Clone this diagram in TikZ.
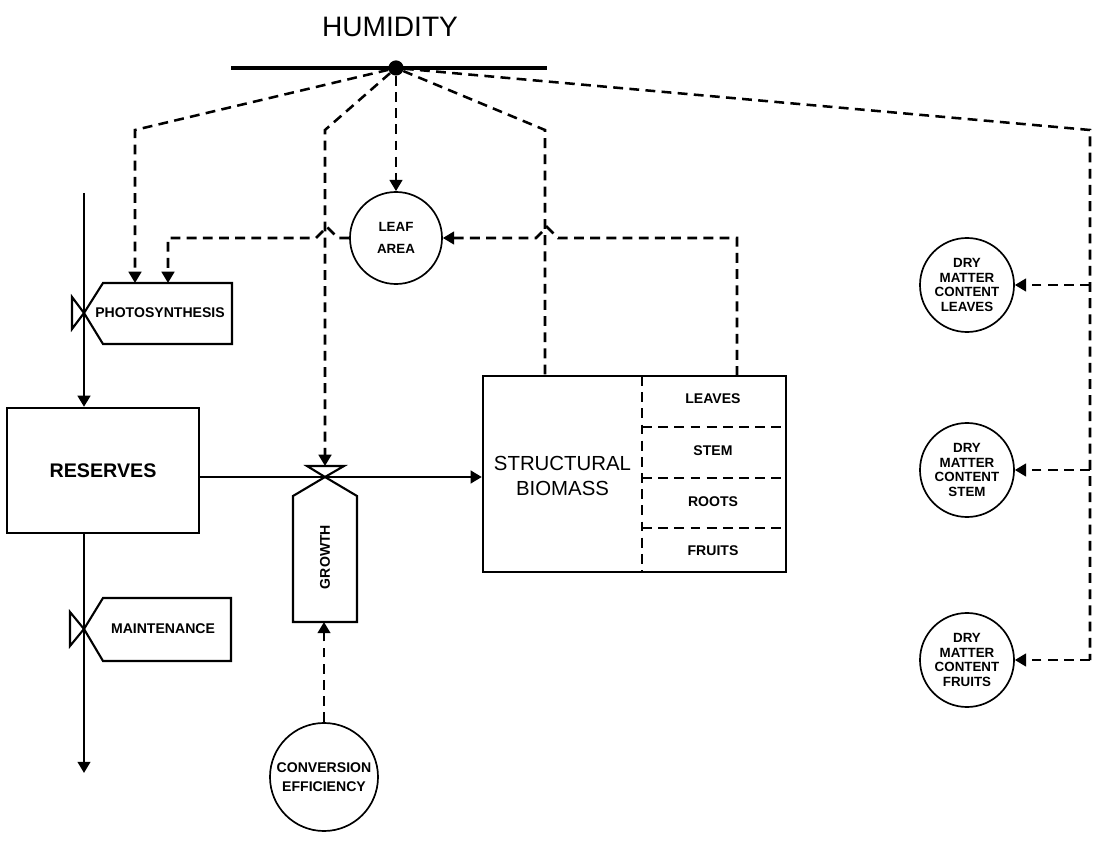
\documentclass[tikz,border=0pt]{standalone}
\usepackage{fontspec}
\setmainfont{Liberation Sans}
\usetikzlibrary{arrows.meta,positioning,calc}

\begin{document}
\begin{tikzpicture}[
    x=0.025cm, y=-0.025cm,
    flow/.style={line width=1.8pt,-{Triangle[length=8pt,width=9pt]}},
    info/.style={line width=1.8pt,dash pattern=on 7pt off 4.5pt},
    infoarrow/.style={info,-{Triangle[length=8pt,width=9pt]}},
    valve/.style={line width=1.5pt,line join=miter},
    pool/.style={rectangle,draw,line width=1.6pt,inner sep=0pt},
    aux/.style={circle,draw,line width=1.2pt,align=center,inner sep=0pt,
        font=\fontsize{9.5}{10.5}\selectfont\bfseries},
    tag/.style={font=\fontsize{10}{12}\selectfont\bfseries}
]
    \useasboundingbox (0,0) rectangle (1101,846);

    % Humidity
    \node[font=\fontsize{20}{24}\selectfont] (humidity) at (390,27) {HUMIDITY};
    \coordinate (barL) at (231,68);
    \coordinate (barR) at (547,68);
    \draw[line width=3pt] (barL) -- (barR);
    \node[circle,fill,inner sep=0pt,minimum size=0.38cm] (hub) at (396,68) {};

    % Pools
    \node[pool, minimum width=4.8cm, minimum height=3.125cm,
        font=\fontsize{14}{16}\selectfont\bfseries] (reserves) at (103,470.5) {RESERVES};
    \node[pool, minimum width=7.575cm, minimum height=4.9cm] (biomass) at (634.5,474) {};
    \node[align=center, font=\fontsize{14.5}{18.4}\selectfont] (structural) at (562.5,476) {STRUCTURAL\\BIOMASS};
    \draw[info] (642,376) -- (642,572);
    \foreach \y in {427,478,528}
        \draw[info] (642,\y) -- (786,\y);
    \node[tag] (leaves) at (713,399) {LEAVES};
    \node[tag] (stem) at (713,451) {STEM};
    \node[tag] (roots) at (713,502) {ROOTS};
    \node[tag] (fruits) at (713,551) {FRUITS};

    % Valves
    \draw[valve] (72,297) -- (72,329) -- (84,313) -- cycle;
    \draw[valve] (84,313) -- (103,283) -- (232,283) -- (232,344) -- (103,344) -- cycle;
    \node[tag] (photo) at (160,313) {PHOTOSYNTHESIS};
    \draw[valve] (70,612) -- (70,646) -- (84,629) -- cycle;
    \draw[valve] (84,629) -- (103,598) -- (231,598) -- (231,661) -- (103,661) -- cycle;
    \node[tag] (maint) at (163,629) {MAINTENANCE};
    \draw[valve] (307,466) -- (344,466) -- (325,477) -- cycle;
    \draw[valve] (325,477) -- (357,496) -- (357,622) -- (293,622) -- (293,496) -- cycle;
    \node[tag, rotate=90] (growth) at (325,557) {GROWTH};

    % Auxiliaries
    \node[aux, minimum size=2.3cm, font=\fontsize{9.5}{15.5}\selectfont\bfseries] (leaf) at (396,238) {LEAF\\AREA};
    \node[aux, minimum size=2.7cm, font=\fontsize{10}{13.5}\selectfont\bfseries] (conv) at (324,777) {CONVERSION\\EFFICIENCY};
    \node[aux, minimum size=2.35cm] (dmleaves) at (967,285) {DRY\\MATTER\\CONTENT\\LEAVES};
    \node[aux, minimum size=2.35cm] (dmstem) at (967,470) {DRY\\MATTER\\CONTENT\\STEM};
    \node[aux, minimum size=2.35cm] (dmfruits) at (967,660) {DRY\\MATTER\\CONTENT\\FRUITS};

    % Coordinates
    \coordinate (source) at (84,193);
    \coordinate (sink) at (84,773);
    \coordinate (photoA) at (135,283);
    \coordinate (photoB) at (168,283);
    \coordinate (growthIn) at (325,466);
    \coordinate (growthPt) at (325,477);
    \coordinate (growthOut) at (324,622);
    \coordinate (bmHum) at (545,376);
    \coordinate (bmLeaf) at (737,376);
    \coordinate (dmLine) at (1090,660);

    % Material flows
    \draw[flow] (source) -- (source |- reserves.north);
    \draw[flow] (source |- reserves.south) -- (sink);
    \draw[flow] (growthPt -| reserves.east) -- (growthPt -| biomass.west);

    % Information links
    \draw[infoarrow] (hub) -- (135,130) -- (photoA);
    \draw[infoarrow] (hub) -- (325,130) -- (growthIn);
    \draw[infoarrow] (hub) -- (leaf.north);
    \draw[info] (hub) -- (545,130) -- (bmHum);
    \draw[info] (hub) -- (1090,130) -- (dmLine);
    \draw[infoarrow] (dmleaves.east -| dmLine) -- (dmleaves.east);
    \draw[infoarrow] (dmstem.east -| dmLine) -- (dmstem.east);
    \draw[infoarrow] (dmLine) -- (dmfruits.east);
    \draw[infoarrow] (bmLeaf) -- (737,238) -- (558,238) -- (547,227) -- (536,238) -- (leaf.east);
    \draw[infoarrow] (leaf.west) -- (338,238) -- (327,227) -- (316,238) -- (168,238) -- (photoB);
    \draw[infoarrow] (conv) -- (growthOut);
\end{tikzpicture}
\end{document}
